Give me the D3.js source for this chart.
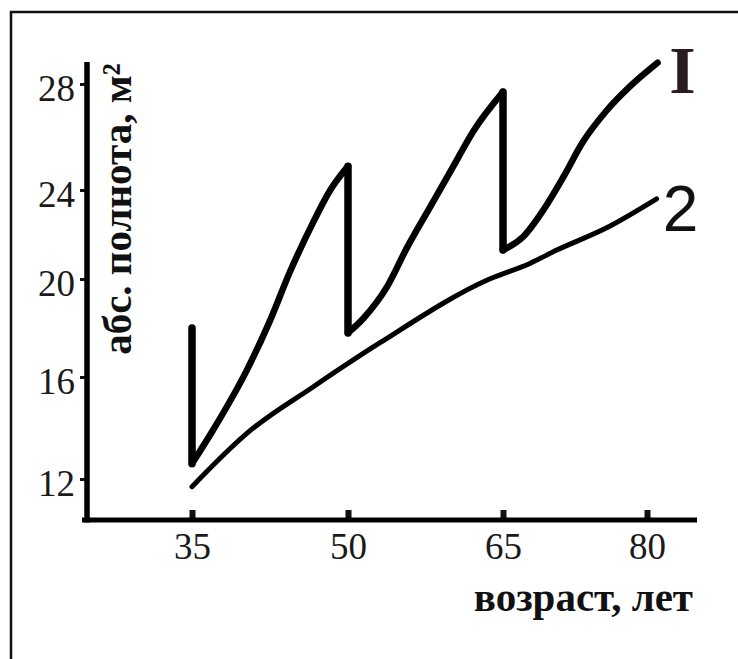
<!DOCTYPE html>
<html>
<head>
<meta charset="utf-8">
<script src="https://cdn.jsdelivr.net/npm/d3@7"></script>
<style>
  body { margin: 0; background: #fff; }
  svg { display: block; }
</style>
</head>
<body>
<div id="canvas"></div>
<script>
const w = 738;
const h = 659;

// tick values as printed on the axes
const ageTicks = [35, 50, 65, 80];
const areaTicks = [12, 16, 20, 24, 28];

// curve I : rising stretches between thinnings [age, m2]
const rise1 = [[35, 12.6], [37, 13.9], [40.3, 16.3], [42.5, 18.3], [44.4, 20.3], [46.6, 22.5], [48.3, 24.0], [50, 24.9]];
const rise2 = [[50, 17.8], [51.5, 18.4], [53.8, 19.7], [55.7, 21.4], [57.9, 23.2], [60.2, 24.9], [62.1, 26.2], [65, 27.7]];
const rise3 = [[65, 21.3], [67.1, 21.9], [69.2, 23.1], [71.3, 24.5], [73.3, 25.8], [75.8, 27.0], [78.2, 27.9], [81.1, 28.8]];
// thinnings : [age, before, after]
const cuts = [[35, 18.0, 12.6], [50, 24.9, 17.8], [65, 27.7, 21.3]];

// curve 2 : stand without thinning
const curve2 = [[35, 11.7], [40.3, 13.8], [46.6, 15.6], [53.1, 17.4], [63.7, 20.0], [67.8, 20.7], [70.6, 21.3], [75.8, 22.3], [81.0, 23.6]];

// the printed axes are hand drawn, so the ticks are not evenly spaced
const x = d3.scaleLinear().domain(ageTicks).range([192, 348, 503, 647]);
const y = d3.scaleLinear().domain(areaTicks).range([479, 377, 279, 190, 84]);

const axisX = 87;   // vertical axis position
const axisY = 520;  // horizontal axis position
const serif = "'Liberation Serif', 'Times New Roman', serif";

let svg = d3.select("#canvas").append("svg").attr("width", w).attr("height", h);

// scan frame (only top and left edges are inside the picture)
svg.append("path")
  .attr("d", "M11," + h + "V12H" + w)
  .attr("fill", "none").attr("stroke", "#111").attr("stroke-width", 2.5);

// axes
let gx = svg.append("g")
  .attr("transform", "translate(0," + axisY + ")")
  .call(d3.axisBottom(x).tickValues(ageTicks).tickSize(-10).tickSizeOuter(0).tickPadding(13));
gx.select(".domain").remove();
gx.selectAll(".tick line").attr("stroke", "#111").attr("stroke-width", 6);
gx.selectAll(".tick text")
  .attr("font-family", serif).attr("font-size", 37).attr("fill", "#1a1a1a");

let gy = svg.append("g")
  .attr("transform", "translate(" + axisX + ",0)")
  .call(d3.axisLeft(y).tickValues(areaTicks).tickSize(7).tickSizeOuter(0).tickPadding(5));
gy.select(".domain").remove();
gy.selectAll(".tick line").attr("stroke", "#111").attr("stroke-width", 3);
gy.selectAll(".tick text")
  .attr("font-family", serif).attr("font-size", 37).attr("fill", "#1a1a1a")
  .attr("dy", "0.45em");

svg.append("line")
  .attr("x1", axisX).attr("x2", axisX).attr("y1", 62).attr("y2", axisY + 2.5)
  .attr("stroke", "#000").attr("stroke-width", 5.5);
svg.append("line")
  .attr("x1", 82).attr("x2", 697).attr("y1", axisY).attr("y2", axisY)
  .attr("stroke", "#000").attr("stroke-width", 5);

// axis titles
svg.append("text")
  .attr("transform", "translate(131,209) rotate(-90)")
  .attr("text-anchor", "middle")
  .attr("font-family", serif).attr("font-weight", "bold").attr("font-size", 41)
  .attr("fill", "#111")
  .text("абс. полнота, м²");

svg.append("text")
  .attr("x", 693).attr("y", 611)
  .attr("text-anchor", "end")
  .attr("font-family", serif).attr("font-weight", "bold").attr("font-size", 41)
  .attr("fill", "#111")
  .text("возраст, лет");

// curves
let smooth = d3.line().x((d) => x(d[0])).y((d) => y(d[1])).curve(d3.curveMonotoneX);

svg.selectAll(".rise").data([rise1, rise2, rise3])
  .enter().append("path").attr("class", "rise")
  .attr("d", smooth)
  .attr("fill", "none").attr("stroke", "#000").attr("stroke-width", 6.5)
  .attr("stroke-linecap", "round").attr("stroke-linejoin", "round");

svg.selectAll(".cut").data(cuts)
  .enter().append("line").attr("class", "cut")
  .attr("x1", (d) => x(d[0])).attr("x2", (d) => x(d[0]))
  .attr("y1", (d) => y(d[1])).attr("y2", (d) => y(d[2]))
  .attr("stroke", "#000").attr("stroke-width", 7.5).attr("stroke-linecap", "round");

svg.append("path")
  .attr("d", smooth(curve2))
  .attr("fill", "none").attr("stroke", "#000").attr("stroke-width", 5)
  .attr("stroke-linecap", "round");

// curve labels
let last1 = rise3[rise3.length - 1];
let last2 = curve2[curve2.length - 1];

svg.append("text")
  .attr("x", x(last1[0]) + 25).attr("y", y(last1[1]) + 30)
  .attr("text-anchor", "middle")
  .attr("font-family", serif).attr("font-weight", "bold").attr("font-size", 68)
  .attr("fill", "#2a1c1c")
  .text("I");

svg.append("text")
  .attr("x", x(last2[0]) + 24).attr("y", y(last2[1]) + 32)
  .attr("text-anchor", "middle")
  .attr("font-family", "'Liberation Sans', Arial, sans-serif").attr("font-size", 64)
  .attr("fill", "#111")
  .text("2");
</script>
</body>
</html>
